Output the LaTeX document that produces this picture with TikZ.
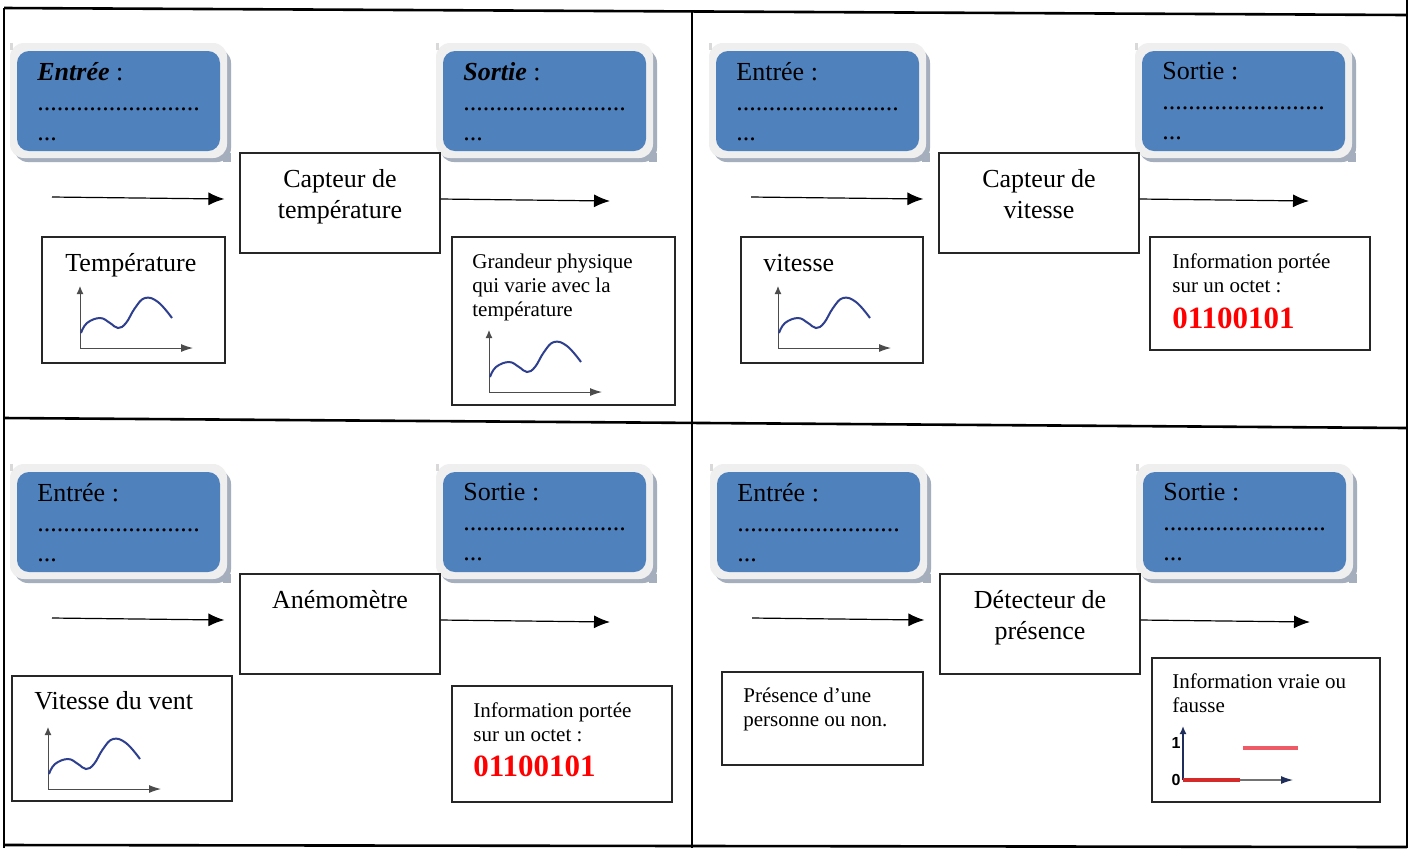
\documentclass[tikz,border=0pt]{standalone}
\usepackage{fontspec}
\setmainfont{Liberation Serif}
\setsansfont{Liberation Sans}
\usetikzlibrary{arrows.meta,calc}
\definecolor{bbblue}{HTML}{4F81BD}
\definecolor{bbouter}{HTML}{EFEFEF}
\definecolor{bbshadow}{HTML}{A5AEBD}
\definecolor{curvec}{HTML}{2E3F8F}
\definecolor{navyc}{HTML}{1F2D5A}
\definecolor{redA}{HTML}{D42A2A}
\definecolor{redB}{HTML}{EE5A66}
\newcommand\mydots{.........................}
\tikzset{
  frameline/.style={line width=1.3pt},
  capbox/.style={draw=black!85, line width=0.6pt, minimum width=100pt, minimum height=50pt, inner sep=0},
  txtbox/.style={draw=black!85, line width=0.6pt, inner sep=0},
  captext/.style={anchor=north, align=center, inner sep=0, font=\fontsize{13}{15.5}\selectfont},
  bigtext/.style={anchor=base west, inner sep=0, font=\fontsize{13}{15.5}\selectfont},
  smalltext/.style={anchor=north west, align=left, inner sep=0, font=\fontsize{10.5}{12}\selectfont},
  digits/.style={anchor=base west, inner sep=0, text=red, font=\fontsize{15.5}{18}\selectfont\bfseries},
  bbtext/.style={anchor=north west, inner sep=0, align=left, font=\fontsize{13}{15}\selectfont},
  axisc/.style={draw=black!70, line width=0.5pt},
  arr/.style={line width=0.6pt, -{Latex[length=8pt,width=6.5pt]}},
  binlabel/.style={anchor=east, inner sep=0.5pt, font=\sffamily\bfseries\fontsize{8}{8}\selectfont}
}
\newcommand\BlueBox[3]{%
  \begin{scope}[shift={#2}]
    \fill[bbshadow, rounded corners=7pt] (4,6) rectangle (221,119);
    \fill[bbshadow] (213,110) rectangle (221,119);
    \fill[bbouter, rounded corners=7pt] (0,0) rectangle (217,115);
    \fill[black!15] (0,0) rectangle (3,7);
    \fill[bbblue, rounded corners=6pt] (7,8) rectangle (210,108);
    \node[bbtext] (#1) at (27,19) {#3};
  \end{scope}}
\newcommand\CurveGraph[1]{%
  \begin{scope}[shift={#1}]
    \draw[axisc, -{Latex[length=4pt,width=3.5pt]}] (0,0) -- (0,-62);
    \draw[axisc, -{Latex[length=6pt,width=4pt]}] (0,0) -- (113,0);
    \draw[curvec, line width=1pt] plot[smooth, tension=0.7] coordinates {(1,-15) (7,-25) (20,-30) (30,-25) (38,-20) (46,-25) (55,-40) (65,-50) (78,-46) (92,-30)};
  \end{scope}}
\begin{document}
\begin{tikzpicture}[x=0.5pt, y=-0.5pt]
\useasboundingbox (0,0) rectangle (1412,848);
\fill[white] (0,0) rectangle (1412,848);

% ---------- Panel 1
\begin{scope}[shift={(0,0)}]
\BlueBox{e1}{(10,43)}{\textbf{\textit{Entrée}} :\\\mydots\\...}
\BlueBox{s1}{(436,43)}{\textbf{\textit{Sortie}} :\\\mydots\\...}
\node[capbox] (cap1) at (340,203) {};
\node[captext] (cap1t) at (340,169) {Capteur de\\température};
\coordinate (in1) at (52,197);
\coordinate (out1) at (610,201);
\draw[arr] (in1) -- ($(cap1.west)+(-15,-4)$);
\draw[arr] ($(cap1.east)+(0,-4)$) -- (out1);
\node[txtbox, minimum width=91.5pt, minimum height=63pt] (tb1) at (133.5,300) {};
\node[bigtext] (tb1t) at (65,271) {Température};
\CurveGraph{(80,348)}
\node[txtbox, minimum width=111.5pt, minimum height=84pt] (ob1) at (563.5,321) {};
\node[smalltext] (ob1t) at (472,253.5) {Grandeur physique\\qui varie avec la\\température};
\CurveGraph{(489,392)}
\end{scope}

% ---------- Panel 2
\begin{scope}[shift={(699,0)}]
\BlueBox{e2}{(10,43)}{Entrée :\\\mydots\\...}
\BlueBox{s2}{(436,43)}{Sortie :\\\mydots\\...}
\node[capbox] (cap2) at (340,203) {};
\node[captext] (cap2t) at (340,169) {Capteur de\\vitesse};
\coordinate (in2) at (52,197);
\coordinate (out2) at (610,201);
\draw[arr] (in2) -- ($(cap2.west)+(-15,-4)$);
\draw[arr] ($(cap2.east)+(0,-4)$) -- (out2);
\node[txtbox, minimum width=91pt, minimum height=63pt] (tb2) at (133,300) {};
\node[bigtext] (tb2t) at (64,271) {vitesse};
\CurveGraph{(79,348)}
\node[txtbox, minimum width=110pt, minimum height=56.5pt] (ob2) at (561,293.5) {};
\node[smalltext] (ob2t) at (473,253.5) {Information portée\\sur un octet :};
\node[digits] (ob2d) at (473,328) {01100101};
\end{scope}

% ---------- Panel 3
\begin{scope}[shift={(0,421)}]
\BlueBox{e3}{(10,43)}{Entrée :\\\mydots\\...}
\BlueBox{s3}{(436,43)}{Sortie :\\\mydots\\...}
\node[capbox] (cap3) at (340,203) {};
\node[captext] (cap3t) at (340,169) {Anémomètre};
\coordinate (in3) at (52,197);
\coordinate (out3) at (610,201);
\draw[arr] (in3) -- ($(cap3.west)+(-15,-4)$);
\draw[arr] ($(cap3.east)+(0,-4)$) -- (out3);
\node[txtbox, minimum width=110pt, minimum height=62.5pt] (tb3) at (122,317.5) {};
\node[bigtext] (tb3t) at (34,288) {Vitesse du vent};
\CurveGraph{(48,368)}
\node[txtbox, minimum width=110pt, minimum height=58pt] (ob3) at (562,323) {};
\node[smalltext] (ob3t) at (473,281.5) {Information portée\\sur un octet :};
\node[digits] (ob3d) at (473,355) {01100101};
\end{scope}

% ---------- Panel 4
\begin{scope}[shift={(700,421)}]
\BlueBox{e4}{(10,43)}{Entrée :\\\mydots\\...}
\BlueBox{s4}{(436,43)}{Sortie :\\\mydots\\...}
\node[capbox] (cap4) at (340,203) {};
\node[captext] (cap4t) at (340,169) {Détecteur de\\présence};
\coordinate (in4) at (52,197);
\coordinate (out4) at (610,201);
\draw[arr] (in4) -- ($(cap4.west)+(-15,-4)$);
\draw[arr] ($(cap4.east)+(0,-4)$) -- (out4);
\node[txtbox, minimum width=100.5pt, minimum height=46.5pt] (tb4) at (122.5,297.5) {};
\node[smalltext] (tb4t) at (43,266.5) {Présence d’une\\personne ou non.};
\node[txtbox, minimum width=114pt, minimum height=72pt] (ob4) at (566,309) {};
\node[smalltext] (ob4t) at (472,252.5) {Information vraie ou\\fausse};
\draw[navyc, line width=1pt, -{Latex[length=4pt,width=3.5pt]}] (483,359) -- (483,305);
\draw[black!55, line width=0.6pt, -{Latex[length=6pt,width=4pt,color=navyc]}] (483,359) -- (593,359);
\draw[redA, line width=1.6pt] (483,359) -- (540,359);
\draw[redB, line width=1.6pt] (543,327) -- (598,327);
\node[binlabel] (one4) at (482,322) {1};
\node[binlabel] (zero4) at (482,359) {0};
\end{scope}

% ---------- Frame
\draw[frameline] (4,8) -- (1407,15);
\draw[frameline] (4,8) -- (4,848);
\draw[frameline] (1407,0) -- (1407,848);
\draw[frameline] (692,12) -- (692,848);
\draw[frameline] (4,418) -- (1407,428);
\draw[frameline] (4,845) -- (1407,847);
\end{tikzpicture}
\end{document}
